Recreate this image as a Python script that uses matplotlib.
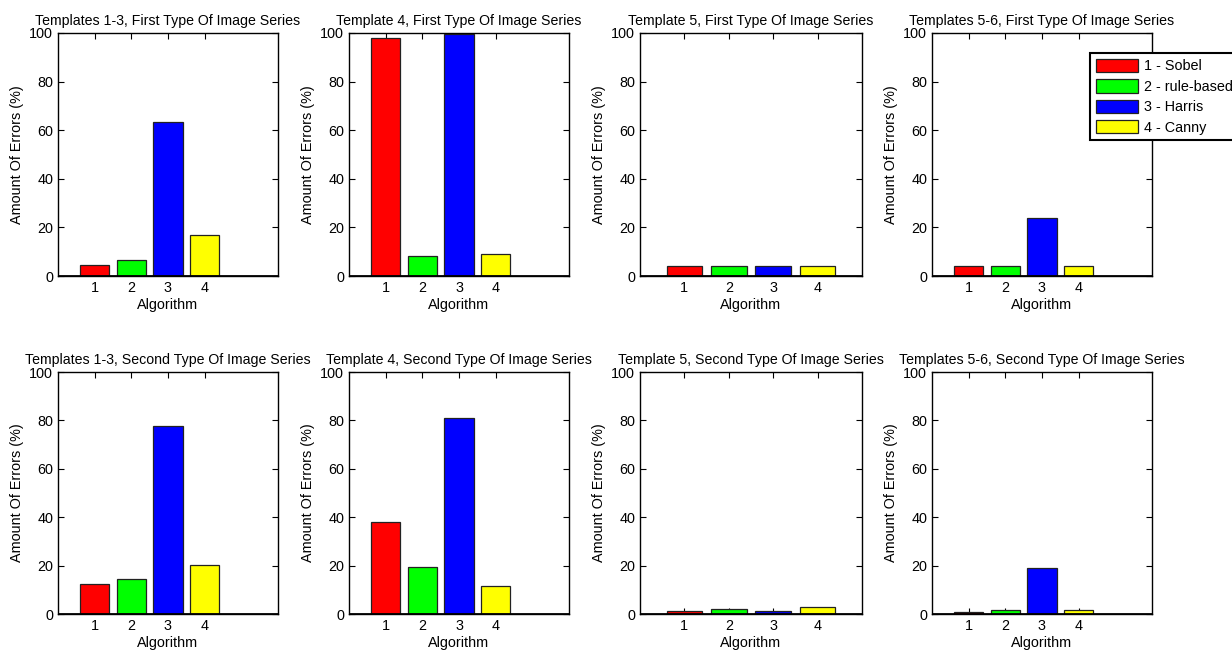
import matplotlib
matplotlib.use("Agg")
import matplotlib.pyplot as plt
from matplotlib.patches import Patch

plt.rcParams['font.family'] = ['Liberation Sans', 'DejaVu Sans']

# ---- data ----
algorithms = [1, 2, 3, 4]
algo_names = ["1 - Sobel", "2 - rule-based", "3 - Harris", "4 - Canny"]
bar_colors = ["#ff0000", "#00ff00", "#0000ff", "#ffff00"]

titles_first = ["Templates 1-3, First Type Of Image Series",
                "Template 4, First Type Of Image Series",
                "Template 5, First Type Of Image Series",
                "Templates 5-6, First Type Of Image Series"]
titles_second = ["Templates 1-3, Second Type Of Image Series",
                 "Template 4, Second Type Of Image Series",
                 "Template 5, Second Type Of Image Series",
                 "Templates 5-6, Second Type Of Image Series"]

t13_first = [4.4, 6.6, 63.2, 16.7]
t4_first = [97.8, 8.4, 99.6, 9.2]
t5_first = [4.0, 4.0, 4.0, 4.0]
t56_first = [4.0, 4.0, 23.7, 4.0]
t13_second = [12.5, 14.6, 77.6, 20.3]
t4_second = [38.0, 19.4, 81.0, 11.6]
t5_second = [1.1, 1.9, 1.1, 3.0]
t56_second = [0.7, 1.6, 19.0, 1.6]

x_max = [6, 6, 5, 6]
yticks = [0, 20, 40, 60, 80, 100]

# ---- layout ----
W, H = 1232, 653
fig = plt.figure(figsize=(W / 100, H / 100), dpi=100)

col_px = [(58, 278), (349, 569), (640, 862), (932, 1152)]
row_px = [(33, 276), (372, 614)]

rows = [(titles_first, [t13_first, t4_first, t5_first, t56_first]),
        (titles_second, [t13_second, t4_second, t5_second, t56_second])]

FS = 10.4
TFS = 10.2
axes = []
for r, (titles, datasets) in enumerate(rows):
    top, bot = row_px[r]
    for c in range(4):
        l, rr = col_px[c]
        ax = fig.add_axes([l / W, 1 - bot / H, (rr - l) / W, (bot - top) / H])
        ax.bar(algorithms, datasets[c], width=0.8, color=bar_colors,
               edgecolor="#222222", linewidth=0.9, zorder=2)
        ax.axhline(0, color="black", linewidth=2.0, zorder=3)
        ax.set_xlim(0, x_max[c])
        ax.set_ylim(0, 100)
        ax.set_xticks(algorithms)
        ax.set_yticks(yticks)
        ax.tick_params(direction="in", length=4, width=0.8, top=True, right=True,
                       labelsize=FS, pad=3.5)
        for s in ax.spines.values():
            s.set_linewidth(1.0)
            s.set_color("black")
        ax.set_title(titles[c], fontsize=TFS, pad=6)
        ax.set_xlabel("Algorithm", fontsize=FS, labelpad=2)
        ax.set_ylabel("Amount Of Errors (%)", fontsize=FS, labelpad=4)
        axes.append(ax)

handles = [Patch(facecolor=col, edgecolor="#222222", linewidth=0.9) for col in bar_colors]
leg = fig.legend(handles, algo_names, loc="upper left",
                 bbox_to_anchor=(1090 / W, 1 - 53 / H), bbox_transform=fig.transFigure,
                 fontsize=FS, frameon=True, fancybox=False, framealpha=1,
                 edgecolor="black", handlelength=2.9, handleheight=1.05,
                 handletextpad=0.45, labelspacing=0.4, borderpad=0.4,
                 borderaxespad=0)
leg.get_frame().set_linewidth(1.5)

fig.savefig("out.png", dpi=100, facecolor="white")
